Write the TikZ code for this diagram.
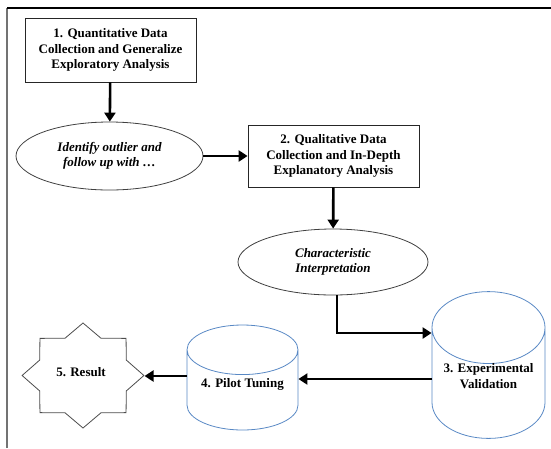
\documentclass[tikz,border=0pt]{standalone}
\usepackage{fontspec}
\setmainfont{Liberation Serif}
\usepackage{tikz}
\usetikzlibrary{positioning}
\usetikzlibrary{shapes}
\usetikzlibrary{arrows.meta}
\usetikzlibrary{calc}

\definecolor{cylblue}{RGB}{88,136,196}

\begin{document}
\begin{tikzpicture}[x=1pt, y=-1pt,
  every node/.style={font=\fontsize{13}{15.5}\selectfont\bfseries, align=center},
  stage/.style={draw=black!85, line width=0.8pt, rectangle, inner sep=0pt},
  note/.style={draw=black!75, line width=0.8pt, ellipse, inner sep=0pt, font=\fontsize{13}{15.5}\selectfont\bfseries\itshape},
  store/.style={draw=cylblue, line width=0.8pt, cylinder, shape border rotate=90, inner sep=0pt, anchor=shape center},
  flow/.style={line width=2.6pt, -{Triangle[length=9pt,width=11pt]}}]
\useasboundingbox (0,0) rectangle (551,448);

% frame
\draw[black!55, line width=1.2pt] (7,448) -- (7,8);
\draw[black, line width=1.2pt] (7,8) -- (551,8);

\node[stage, minimum width=171pt, minimum height=64pt] (quant) at (110.5,50) {1. Quantitative Data\\Collection and Generalize\\Exploratory Analysis};
\node[note, minimum width=187pt, minimum height=68pt] (outlier) at (109.5,156) {Identify outlier and\\follow up with \ldots};
\node[stage, minimum width=171pt, minimum height=62pt] (qual) at (333.5,156) {2. Qualitative Data\\Collection and In-Depth\\Explanatory Analysis};
\node[note, minimum width=190pt, minimum height=66pt] (interp) at (333,262) {Characteristic\\Interpretation};
\node[store, minimum width=113pt, minimum height=140pt, aspect=0.8, text depth=14pt] (valid) at (488.5,365) {3. Experimental\\Validation};
\node[store, minimum width=111pt, minimum height=105pt, aspect=0.6, text depth=15pt] (pilot) at (242.5,377.5) {4. Pilot Tuning};
\node[draw=black!70, line width=0.8pt, star, star points=8, star point ratio=1.3, minimum size=105pt, inner sep=0pt, xscale=1.16, transform shape] (result) at (83,375.5) {};
\node (resultlabel) at (81,372) {5. Result};

\coordinate (bend) at (337,333);
\coordinate (validout) at (432,379);
\coordinate (pilotout) at (187,376);

\draw[flow] (quant) -- (outlier);
\draw[flow] (outlier) -- (qual);
\draw[flow] (qual) -- (interp);
\draw[flow] (interp.south -| bend) -- (bend) -- (bend -| valid.west);
\draw[flow] (validout) -- (validout -| pilot.east);
\draw[flow] (pilotout) -- (pilotout -| result.east);
\end{tikzpicture}
\end{document}
